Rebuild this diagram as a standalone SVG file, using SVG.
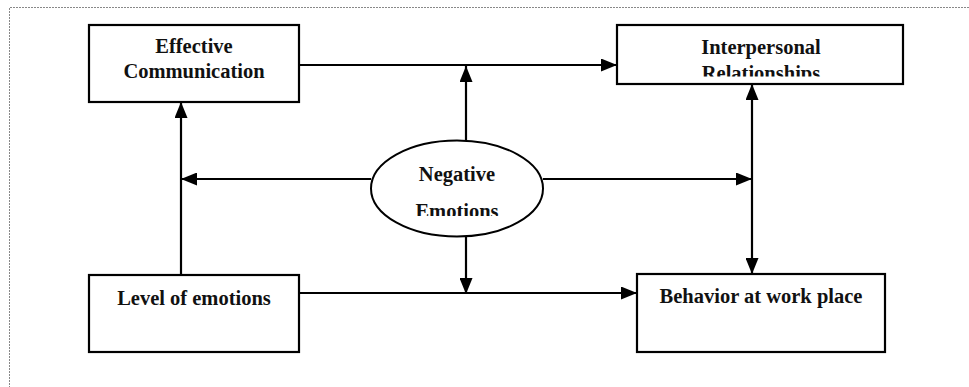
<svg xmlns="http://www.w3.org/2000/svg" width="969" height="387" viewBox="0 0 969 387">
<style>
.box{fill:#fff;stroke:#000;stroke-width:2.2}
.lbl{font-family:"Liberation Serif","Times New Roman",serif;font-weight:bold;font-size:20.5px;fill:#111;text-anchor:middle}
.ln{stroke:#000;stroke-width:2.2;fill:none}
</style>
<defs>
<marker id="ah" viewBox="0 0 16 13" refX="16" refY="6.5" markerWidth="16" markerHeight="13" markerUnits="userSpaceOnUse" orient="auto-start-reverse">
<path d="M0,0 L16,6.5 L0,13 Z" fill="#000"/>
</marker>
<clipPath id="clipIR"><rect x="617" y="25" width="286" height="51.5"/></clipPath>
<clipPath id="clipNE"><rect x="371" y="140" width="172" height="76"/></clipPath>
</defs>
<rect width="969" height="387" fill="#fff"/>
<path d="M9.5,400 V7.5 H980" fill="none" stroke="#888" stroke-width="1" stroke-dasharray="2,1"/>
<g id="connectors">
<line class="ln" x1="299" y1="65" x2="617" y2="65" marker-end="url(#ah)"/>
<line class="ln" x1="466" y1="141" x2="466" y2="66" marker-end="url(#ah)"/>
<line class="ln" x1="371" y1="179" x2="181" y2="179" marker-end="url(#ah)"/>
<line class="ln" x1="543" y1="179" x2="752" y2="179" marker-end="url(#ah)"/>
<line class="ln" x1="181" y1="275" x2="181" y2="102" marker-end="url(#ah)"/>
<line class="ln" x1="752" y1="84" x2="752" y2="274" marker-start="url(#ah)" marker-end="url(#ah)"/>
<line class="ln" x1="466" y1="236" x2="466" y2="294" marker-end="url(#ah)"/>
<line class="ln" x1="299" y1="293" x2="637" y2="293" marker-end="url(#ah)"/>
</g>
<g id="effective-communication">
<rect class="box" x="89" y="25" width="210" height="77"/>
<text class="lbl" x="194" y="53">Effective</text>
<text class="lbl" x="194" y="78">Communication</text>
</g>
<g id="interpersonal-relationships">
<rect class="box" x="617" y="25" width="286" height="59"/>
<g clip-path="url(#clipIR)">
<text class="lbl" x="761" y="54">Interpersonal</text>
<text class="lbl" x="761" y="80">Relationships</text>
</g>
</g>
<g id="negative-emotions">
<ellipse cx="457" cy="188.5" rx="86" ry="48" fill="#fff" stroke="#000" stroke-width="2"/>
<g clip-path="url(#clipNE)">
<text class="lbl" x="457" y="181">Negative</text>
<text class="lbl" x="457" y="218">Emotions</text>
</g>
</g>
<g id="level-of-emotions">
<rect class="box" x="89" y="275" width="210" height="77"/>
<text class="lbl" x="194" y="305">Level of emotions</text>
</g>
<g id="behavior-at-work-place">
<rect class="box" x="637" y="274" width="248" height="78"/>
<text class="lbl" x="761" y="303">Behavior at work place</text>
</g>
</svg>
